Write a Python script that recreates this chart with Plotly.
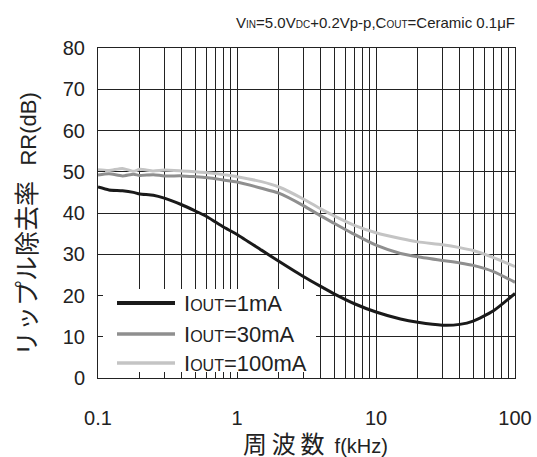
import plotly.graph_objects as go

freq_khz = [0.1, 0.12, 0.15, 0.18, 0.2, 0.25, 0.3, 0.4, 0.5, 0.6, 0.7, 0.8, 1.0, 1.5, 2.0, 3.0, 4.0, 5.0, 7.0, 10.0, 15.0, 20.0, 30.0, 40.0, 50.0, 70.0, 100.0]

rr_1ma = [46.3, 45.6, 45.4, 45.0, 44.6, 44.3, 43.6, 42.0, 40.5, 39.2, 37.8, 36.6, 34.8, 31.0, 28.3, 24.6, 22.2, 20.4, 18.0, 16.0, 14.3, 13.5, 12.8, 13.0, 13.8, 16.3, 20.5]
rr_30ma = [49.2, 49.5, 49.0, 49.4, 49.1, 49.3, 49.0, 49.0, 48.8, 48.6, 48.3, 48.0, 47.5, 46.0, 44.8, 41.8, 39.3, 37.5, 34.8, 32.2, 30.2, 29.4, 28.5, 27.9, 27.3, 25.8, 23.2]
rr_100ma = [50.5, 50.3, 50.8, 50.1, 50.6, 50.2, 50.4, 50.2, 50.0, 49.8, 49.6, 49.3, 48.8, 47.6, 46.3, 43.4, 41.0, 39.3, 37.0, 35.2, 33.8, 33.0, 32.3, 31.6, 30.9, 29.2, 27.0]

series_names = ["I<span style='font-size:16px'>OUT</span>=1mA",
                "I<span style='font-size:16px'>OUT</span>=30mA",
                "I<span style='font-size:16px'>OUT</span>=100mA"]
series_colors = ["#1a1a1a", "#8f8f8f", "#c4c4c4"]
legend_widths = [4, 3.5, 3.5]

x_major = [0.1, 1, 10, 100]
x_major_text = ["0.1", "1", "10", "100"]
x_minor = [m * d for d in [0.1, 1, 10] for m in range(2, 10)]
y_ticks = [0, 10, 20, 30, 40, 50, 60, 70, 80]
x_range_log = [-1, 2]
y_range = [0, 80]

W, H = 537, 457
L, R, T, B = 98, 22, 48, 79
PW, PH = W - L - R, H - T - B


def px_x(px):
    return (px - L) / PW


def px_y(py):
    return (H - B - py) / PH


fig = go.Figure()
for ys, name, col in zip([rr_1ma, rr_30ma, rr_100ma], series_names, series_colors):
    fig.add_trace(go.Scatter(x=freq_khz, y=ys, mode="lines", name=name, showlegend=False,
                             line=dict(color=col, width=3, shape="spline", smoothing=0.6)))

font_family = "Liberation Sans, Arial, Noto Sans CJK JP, sans-serif"

shapes = [dict(type="rect", xref="paper", yref="paper", x0=px_x(103), x1=px_x(316),
               y0=px_y(372), y1=px_y(289), fillcolor="white", line=dict(width=0),
               layer="above")]
annotations = []
row_y = [303, 334, 363]
for name, col, lw, ry in zip(series_names, series_colors, legend_widths, row_y):
    shapes.append(dict(type="line", xref="paper", yref="paper", x0=px_x(117), x1=px_x(175),
                       y0=px_y(ry), y1=px_y(ry), line=dict(color=col, width=lw),
                       layer="above"))
    annotations.append(dict(xref="paper", yref="paper", x=px_x(182), y=px_y(ry),
                            xanchor="left", yanchor="middle", text=name, showarrow=False,
                            font=dict(size=22, color="#222")))

annotations.append(dict(xref="paper", yref="paper", x=px_x(315), y=px_y(444),
                        xanchor="center", yanchor="middle", showarrow=False,
                        text="<span style='font-size:24px'>周\u2009波\u2009数</span>\u2002f(kHz)",
                        font=dict(size=20, color="#222")))
annotations.append(dict(xref="paper", yref="paper", x=px_x(27), y=px_y(224),
                        xanchor="center", yanchor="middle", showarrow=False, textangle=-90,
                        text="<span style='font-size:25px'>リップル除去率</span>\u2002\u2009RR(dB)",
                        font=dict(size=22, color="#222")))

fig.update_layout(
    width=W, height=H,
    margin=dict(l=L, r=R, t=T, b=B),
    paper_bgcolor="white", plot_bgcolor="white",
    font=dict(family=font_family, color="#222", size=17),
    title=dict(
        text="V<span style='font-size:10px'>IN</span>=5.0V<span style='font-size:10px'>DC</span>+0.2Vp-p,C<span style='font-size:10px'>OUT</span>=Ceramic 0.1μF",
        x=1, xanchor="right", xref="paper", y=1 - 23 / H, yref="container", yanchor="middle",
        font=dict(size=15, color="#222")),
    showlegend=False,
    shapes=shapes,
    annotations=annotations,
    xaxis=dict(type="log", range=x_range_log, tickvals=x_major, ticktext=x_major_text,
               ticks="inside", ticklen=7, tickcolor="#222", showgrid=True, gridcolor="#222",
               gridwidth=1, showline=True, linecolor="#222", linewidth=1, mirror=True,
               minor=dict(tickvals=x_minor, ticks="inside", ticklen=7, tickcolor="#222",
                          showgrid=True, gridcolor="#222", gridwidth=1),
               tickfont=dict(size=20), zeroline=False, automargin=False,
               ticklabelstandoff=22),
    yaxis=dict(range=y_range, tickvals=y_ticks, ticks="inside", ticklen=7, tickcolor="#222",
               showgrid=True, gridcolor="#222", gridwidth=1, showline=True, linecolor="#222",
               linewidth=1, mirror=True, tickfont=dict(size=20), zeroline=False,
               automargin=False, ticklabelstandoff=8),
)

fig.write_html("out.html", config={"displayModeBar": False},
               post_script="document.body.style.margin='0';")
